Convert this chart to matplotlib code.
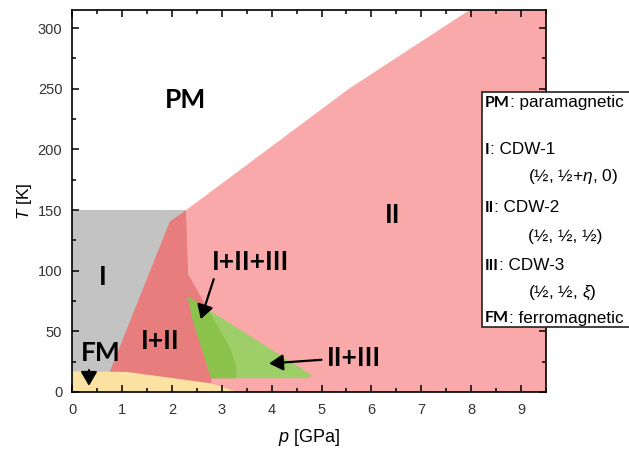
import matplotlib
matplotlib.use("Agg")
import matplotlib.pyplot as plt
from matplotlib.patches import Polygon, Rectangle
from matplotlib.text import Annotation

# phase regions, pressure p [GPa] and temperature T [K]
cdw1_p = [0, 2.29, 2.29, 0]
cdw1_T = [0, 0, 150, 150]

cdw2_p = [2.29, 5.55, 7.97, 9.5, 9.5, 2.6, 2.33]
cdw2_T = [150, 250, 315, 315, 0, 0, 97]

cdw12_p = [0.76, 1.96, 2.29, 2.33, 2.72, 3.16, 3.29, 3.29, 2.79, 2.79, 0.76]
cdw12_T = [17, 140.5, 150, 97, 68, 37, 22, 11.3, 11.3, 0, 0]

cdw3_p = [2.32, 4.80, 4.73, 2.79, 2.63, 2.42]
cdw3_T = [78.6, 14, 11.3, 11.3, 32, 59.4]

cdw123_p = [2.32, 2.72, 2.95, 3.16, 3.29, 3.29, 2.79, 2.63, 2.42]
cdw123_T = [78.6, 68.5, 52, 37, 22, 11.3, 11.3, 32, 59.4]

fm_p = [0, 0, 1.1, 2.0, 2.8, 3.3]
fm_T = [0, 17, 16.5, 11.5, 7, 0]

x_ticks = list(range(0, 10))
y_ticks = [0, 50, 100, 150, 200, 250, 300]

regions = [
    (cdw1_p, cdw1_T, "#c3c3c3"),
    (cdw2_p, cdw2_T, "#f9a9a9"),
    (cdw12_p, cdw12_T, "#e77d7d"),
    (cdw3_p, cdw3_T, "#9dce68"),
    (cdw123_p, cdw123_T, "#8ac24b"),
    (fm_p, fm_T, "#fce2a2"),
]

bold = "Lato"
plt.rcParams["font.family"] = ["Liberation Sans", "DejaVu Sans"]
plt.rcParams["mathtext.fontset"] = "custom"
plt.rcParams["mathtext.it"] = "Liberation Sans:italic"
plt.rcParams["mathtext.rm"] = "Liberation Sans"

fig = plt.figure(figsize=(6.29, 4.5), dpi=100)
ax = fig.add_axes([0.1145, 0.129, 0.7536, 0.849])

for p, T, c in regions:
    ax.add_patch(Polygon(list(zip(p, T)), closed=True, facecolor=c,
                         edgecolor="none", zorder=1))

ax.set_xticks(x_ticks)
ax.set_yticks(y_ticks)
ax.set_xticks([x + 0.5 for x in x_ticks], minor=True)
ax.set_yticks([y + 25 for y in y_ticks], minor=True)
# set limits after the ticks, otherwise the 325 minor tick widens the view
ax.set_xlim(0, 9.5)
ax.set_ylim(0, 315)
ax.tick_params(which="both", direction="in", top=True, right=True,
               labelsize=10.5, labelcolor="#333333", width=1.1, zorder=5)
ax.tick_params(which="major", length=5)
ax.tick_params(axis="x", which="major", pad=8)
ax.tick_params(axis="y", which="major", pad=7)
ax.tick_params(which="minor", length=3)
for s in ax.spines.values():
    s.set_linewidth(1.2)
    s.set_zorder(6)
ax.set_xlabel("$p$ [GPa]", fontsize=13, labelpad=7)
ax.set_ylabel("$T$ [K]", fontsize=12.5, labelpad=3)

# phase labels
lab = dict(fontsize=19, fontweight="bold", family=bold, ha="center",
           va="center", zorder=4)
ax.text(2.28, 241, "PM", **lab)
ax.text(0.62, 95, "I", **lab)
ax.text(6.43, 146, "II", **lab)
ax.text(1.77, 42, "I+II", **lab)
ax.text(3.58, 107, "I+II+III", **lab)
ax.text(5.65, 28, "II+III", **lab)
ax.text(0.58, 32, "FM", **lab)

arrow = dict(arrowstyle="-|>,head_length=0.6,head_width=0.35", color="k",
             lw=1.6, mutation_scale=14, shrinkA=0, shrinkB=0)
ax.annotate("", xy=(2.58, 60), xytext=(2.84, 93), arrowprops=arrow, zorder=4)
ax.annotate("", xy=(3.95, 23.5), xytext=(5.0, 26.5), arrowprops=arrow, zorder=4)
ax.annotate("", xy=(0.34, 5), xytext=(0.34, 18), arrowprops=arrow, zorder=4)

# key box on the right
fig.patches.append(Rectangle((482 / 629, 1 - 327 / 450), 0.3, (327 - 92) / 450,
                             transform=fig.transFigure, facecolor="white",
                             edgecolor="#222222", linewidth=1.2, zorder=10))

key_rows = [
    ("PM", ": paramagnetic", 103),
    ("I", ": CDW-1", 150),
    ("II", ": CDW-2", 208),
    ("III", ": CDW-3", 266),
    ("FM", ": ferromagnetic", 318),
]
key_vectors = [
    ("(½, ½+$\\eta$, 0)", 177),
    ("(½, ½, ½)", 237),
    ("(½, ½, $\\xi$)", 293),
]
x0 = 485 / 629
for b, rest, ypx in key_rows:
    t = fig.text(x0, 1 - ypx / 450, b, fontsize=11.5, fontweight="bold",
                 family=bold, va="center", ha="left", zorder=11)
    ann = Annotation(rest, xy=(1, 0.5), xycoords=t, va="center", ha="left",
                     fontsize=12.3, zorder=11)
    fig.add_artist(ann)
for s, ypx in key_vectors:
    fig.text(528 / 629, 1 - ypx / 450, s, fontsize=12.5, va="center",
             ha="left", zorder=11)

fig.savefig("out.png", dpi=100)
